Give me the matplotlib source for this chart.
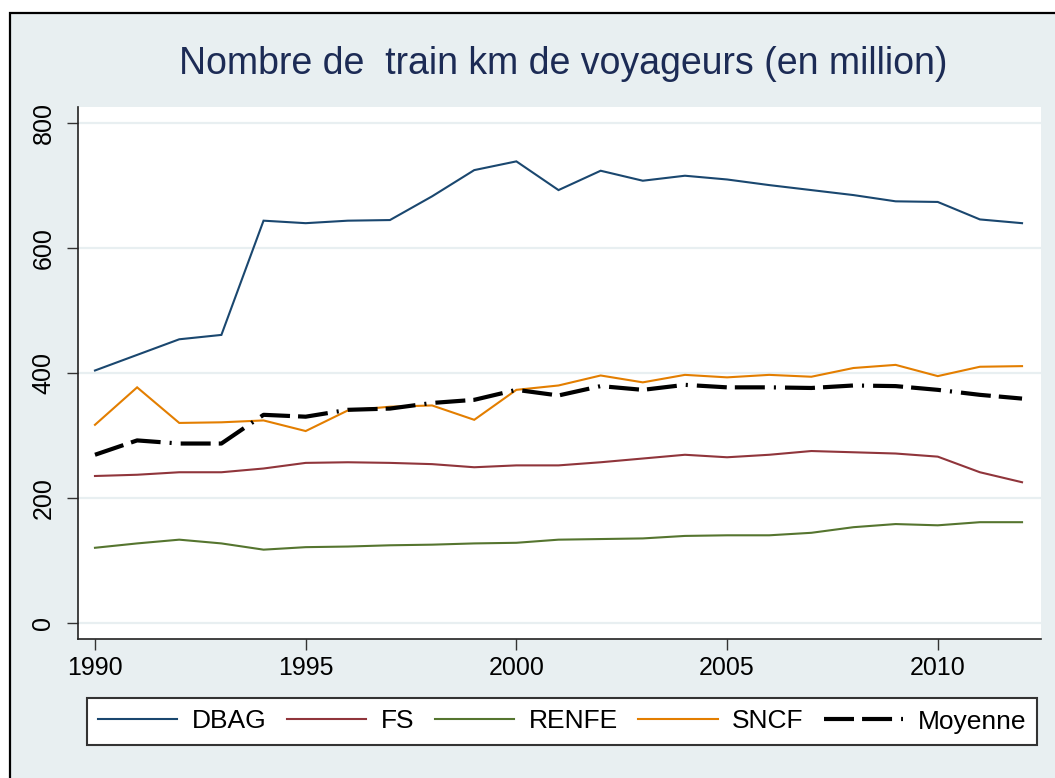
import matplotlib
matplotlib.use("Agg")
import matplotlib.pyplot as plt
from matplotlib.patches import Rectangle

plt.rcParams['font.family'] = ['Liberation Sans', 'DejaVu Sans']
plt.rcParams['lines.scale_dashes'] = False

years = list(range(1990, 2013))
dbag = [404, 429, 454, 461, 644, 640, 644, 645, 683, 725, 739, 693, 724, 708, 716, 710, 701, 693, 685, 675, 674, 646, 640]
fs = [235, 237, 241, 241, 247, 256, 257, 256, 254, 249, 252, 252, 257, 263, 269, 265, 269, 275, 273, 271, 266, 241, 225]
renfe = [120, 127, 133, 127, 117, 121, 122, 124, 125, 127, 128, 133, 134, 135, 139, 140, 140, 144, 153, 158, 156, 161, 161]
sncf = [317, 377, 320, 321, 324, 307, 340, 346, 348, 325, 373, 380, 396, 385, 397, 393, 397, 394, 408, 413, 395, 410, 411]
moyenne = [269, 292, 287, 287, 333, 330, 341, 343, 352, 357, 373, 364, 379, 373, 381, 377, 377, 376, 380, 379, 373, 365, 359]

series_names = ["DBAG", "FS", "RENFE", "SNCF", "Moyenne"]
title = "Nombre de  train km de voyageurs (en million)"
xticks = [1990, 1995, 2000, 2005, 2010]
yticks = [0, 200, 400, 600, 800]

W, H = 1055, 778
bg = "#e8eff1"
fig = plt.figure(figsize=(W / 100, H / 100), dpi=100)
fig.patch.set_facecolor("white")
fig.patches.append(Rectangle((10 / W, -0.1), 1.2, 1.1 - 13 / H, transform=fig.transFigure,
                             facecolor=bg, edgecolor="black", lw=1.6, zorder=-10))

ax = fig.add_axes([77.7 / W, 1 - 639.3 / H, (1041 - 77.7) / W, (639.3 - 107) / H])
ax.set_zorder(1)
ax.set_facecolor("white")

colors = ["#1a476f", "#90353b", "#55752f", "#e37e00"]
for vals, name, c in zip([dbag, fs, renfe, sncf], series_names[:4], colors):
    ax.plot(years, vals, color=c, lw=1.5, label=name, solid_joinstyle="miter")
ax.plot(years, moyenne, color="black", lw=3.0, label=series_names[4],
        dashes=(21.6, 5.8, 21.6, 6.5, 1.5, 6.5))

ax.set_xlim(1989.59, 2012.45)
ax.set_ylim(-26.6, 826.1)
ax.set_xticks(xticks)
ax.set_yticks(yticks)
ax.set_xticklabels([str(t) for t in xticks], fontsize=18)
ax.set_yticklabels([str(t) for t in yticks], fontsize=18, rotation=90, va="center")
ax.tick_params(axis="both", direction="out", length=8, width=1.0, color="#333333")
ax.tick_params(axis="y", pad=8)
ax.tick_params(axis="x", pad=4)
ax.grid(axis="y", color=bg, lw=1.6)
ax.set_axisbelow(True)
for s in ["top", "right"]:
    ax.spines[s].set_visible(False)
for s in ["left", "bottom"]:
    ax.spines[s].set_linewidth(1.2)
    ax.spines[s].set_color("#222222")

fig.text(563 / W, 1 - 74 / H, title, ha="center", va="baseline", fontsize=27, color="#1c2b55")

leg = fig.legend(loc="center left", bbox_to_anchor=(87 / W, 1 - 721.5 / H), ncol=5,
                 fontsize=19, frameon=True, fancybox=False, handlelength=3.0, framealpha=1,
                 handletextpad=0.55, columnspacing=0.78, borderpad=0.42, borderaxespad=0)
leg.get_frame().set_edgecolor("#333333")
leg.get_frame().set_linewidth(1.5)
leg.get_frame().set_facecolor("white")

fig.savefig("out.png", dpi=100, facecolor=fig.get_facecolor())
